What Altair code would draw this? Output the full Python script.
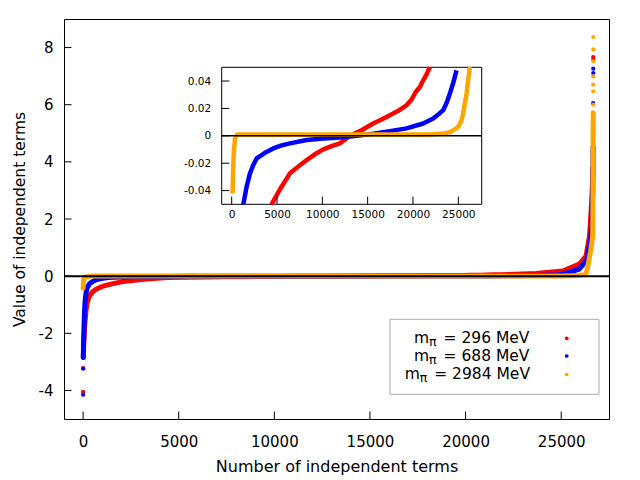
import altair as alt
import pandas as pd

# ---------------- data ----------------
names = ["296", "688", "2984"]
colors = ["#ff0000", "#0000ff", "#ffa500"]

red_idx = [10, 30, 60, 100, 150, 220, 320, 500, 700, 1000, 1500, 2000, 3000, 4400, 5330,
           6430, 7340, 8270, 9180, 10100, 11020, 11940, 13040, 14330, 15600, 16540, 17450,
           18370, 19290, 19850, 20300, 20760, 21130, 21500, 21860, 23690, 25080, 25950,
           26300, 26480, 26560, 26620, 26660]
red_val = [-2.85, -2.4, -2.0, -1.6, -1.2, -0.9, -0.7, -0.55, -0.45, -0.36, -0.27, -0.2, -0.12, -0.05,
           -0.039, -0.0274, -0.0225, -0.0177, -0.0135, -0.0099, -0.0075, -0.0055, 0.0, 0.0041,
           0.009, 0.0119, 0.015, 0.0182, 0.0223, 0.0265, 0.032, 0.0356, 0.0405, 0.0449, 0.050,
           0.09, 0.18, 0.42, 0.7, 1.4, 2.2, 3.0, 3.8]
red_out_idx = [0, 3, 26670, 26678, 26679]
red_out_val = [-4.05, -3.22, 4.13, 7.6, 7.67]

blue_idx = [8, 25, 45, 70, 100, 150, 220, 350, 600, 900, 1283, 1654, 2021, 2385, 2753, 3675,
            4590, 5513, 6430, 8270, 10100, 11940, 13780, 15615, 17450, 19290, 21130, 22230,
            22780, 23330, 23705, 24070, 24430, 24800, 25080, 25950, 26330, 26565, 26620,
            26650, 26668]
blue_val = [-2.85, -2.3, -1.8, -1.3, -0.9, -0.6, -0.4, -0.25, -0.15, -0.09, -0.05, -0.037, -0.0274,
            -0.0213, -0.0165, -0.0124, -0.0092, -0.007, -0.0055, -0.0031, -0.0019, -0.0012, 0.0,
            0.0015, 0.0034, 0.0054, 0.0090, 0.0126, 0.0155, 0.0187, 0.024, 0.0308, 0.0385,
            0.0478, 0.07, 0.25, 0.55, 1.4, 2.3, 3.0, 4.54]
blue_out_idx = [0, 3, 26672, 26676, 26678]
blue_out_val = [-4.15, -3.24, 6.06, 7.11, 7.26]

orange_idx = [0, 15, 35, 60, 100, 160, 240, 360, 600, 21860, 23330, 24070, 24800, 25100,
              25355, 25540, 25720, 25910, 26090, 26270, 26350, 26530, 26650, 26665, 26674]
orange_val = [-0.42, -0.25, -0.12, -0.06, -0.042, -0.025, -0.012, -0.002, 0.001, 0.001, 0.0016,
              0.0026, 0.0054, 0.0078, 0.0114, 0.0163, 0.0235, 0.0308, 0.0405, 0.0502, 0.2,
              0.85, 1.4, 3.84, 5.72]
orange_out_idx = [26676, 26677, 26677, 26678, 26678, 26679, 26680]
orange_out_val = [6.0, 6.47, 6.7, 6.99, 7.52, 7.93, 8.37]

main_xticks = [0, 5000, 10000, 15000, 20000, 25000]
main_yticks = [-4, -2, 0, 2, 4, 6, 8]
inset_xticks = [0, 5000, 10000, 15000, 20000, 25000]
inset_yticks = [-0.04, -0.02, 0, 0.02, 0.04]

# ---------------- layout constants ----------------
W, H = 545, 400
IX0, IX1, IY0, IY1 = 157.7, 417.7, 48.3, 185.3
FONT = "DejaVu Sans"

curves = [(red_idx, red_val), (blue_idx, blue_val), (orange_idx, orange_val)]
outs = [(red_out_idx, red_out_val), (blue_out_idx, blue_out_val), (orange_out_idx, orange_out_val)]

mx_scale = alt.Scale(domain=[-1000, 27500], nice=False, zero=False)
my_scale = alt.Scale(domain=[-5, 9], nice=False, zero=False)
ix_scale = alt.Scale(domain=[-1100, 27580], range=[IX0, IX1], nice=False, zero=False)
iy_scale = alt.Scale(domain=[-0.05, 0.05], range=[IY1, IY0], nice=False, zero=False)

main_xaxis = alt.Axis(values=main_xticks, labelExpr="toString(datum.value)", tickSize=0,
                      domain=False, grid=False, labelPadding=15, labelFontSize=15,
                      title="Number of independent terms", titlePadding=9, titleFontSize=16,
                      labelFlush=False)
main_yaxis = alt.Axis(values=main_yticks, labelExpr="toString(datum.value)", tickSize=0,
                      domain=False, grid=False, labelPadding=11, labelFontSize=15,
                      title="Value of independent terms", titlePadding=11, titleFontSize=15.5)
inset_xaxis = alt.Axis(values=inset_xticks, labelExpr="toString(datum.value)", tickSize=0,
                       domain=False, grid=False, labelPadding=5, labelFontSize=10.5,
                       orient="bottom", offset=-(H - IY1), title=None, zindex=1,
                       labelFlush=False)
inset_yaxis = alt.Axis(values=inset_yticks, labelExpr="toString(datum.value)", tickSize=0,
                       domain=False, grid=False, labelPadding=11, labelFontSize=10.5,
                       orient="left", offset=-IX0, title=None, zindex=1)


def MX():
    return alt.X("x:Q", scale=mx_scale, axis=main_xaxis)


def MY():
    return alt.Y("y:Q", scale=my_scale, axis=main_yaxis)


def IX():
    return alt.X("x:Q", scale=ix_scale, axis=inset_xaxis)


def IY():
    return alt.Y("y:Q", scale=iy_scale, axis=inset_yaxis)


# ---------------- main panel ----------------
main_layers = []
for (ci, cv), (oi, ov), col in zip(curves, outs, colors):
    cdf = pd.DataFrame({"x": ci, "y": cv})
    odf = pd.DataFrame({"x": oi, "y": ov})
    main_layers.append(alt.Chart(cdf).mark_line(color=col, strokeWidth=5, strokeCap="round",
                                                strokeJoin="round").encode(x=MX(), y=MY()))
    main_layers.append(alt.Chart(odf).mark_circle(color=col, size=18, opacity=1).encode(x=MX(), y=MY()))

main_layers.append(alt.Chart(pd.DataFrame({"y": [0]})).mark_rule(color="black", strokeWidth=2)
                   .encode(y=MY()))
main_layers.append(alt.Chart(pd.DataFrame({"x": main_xticks})).mark_rule(color="black", strokeWidth=1)
                   .encode(x=MX(), y=alt.value(H), y2=alt.value(H - 7.5)))
main_layers.append(alt.Chart(pd.DataFrame({"y": main_yticks})).mark_rule(color="black", strokeWidth=1)
                   .encode(y=MY(), x=alt.value(0), x2=alt.value(7.5)))

# legend (manual, gnuplot style: label left, symbol right)
one = pd.DataFrame({"a": [0]})
main_layers.append(alt.Chart(one).mark_rect(fill="white", stroke="#aaaaaa", strokeWidth=1)
                   .encode(x=alt.value(326), x2=alt.value(535), y=alt.value(300.3), y2=alt.value(375.3)))
row_base = [324.3, 342.0, 359.7]
row_mid = [319.3, 337.0, 355.5]
m_x = [350.0, 350.0, 340.7]
for nm, col, yb, ym, mx in zip(names, colors, row_base, row_mid, m_x):
    main_layers.append(alt.Chart(one).mark_text(text="m", font=FONT, fontSize=15.5, align="left",
                                                baseline="alphabetic", color="black")
                       .encode(x=alt.value(mx), y=alt.value(yb)))
    main_layers.append(alt.Chart(one).mark_text(text="π", font=FONT, fontSize=12.5, align="left",
                                                baseline="alphabetic", color="black")
                       .encode(x=alt.value(mx + 15), y=alt.value(yb + 3)))
    main_layers.append(alt.Chart(one).mark_text(text=f"= {nm} MeV", font=FONT, fontSize=15.5, align="left",
                                                baseline="alphabetic", color="black")
                       .encode(x=alt.value(mx + 29.5), y=alt.value(yb)))
    main_layers.append(alt.Chart(one).mark_circle(color=col, size=14, opacity=1)
                       .encode(x=alt.value(502.7), y=alt.value(ym)))

main = alt.layer(*main_layers)

# ---------------- inset panel ----------------
inset_layers = [alt.Chart(one).mark_rect(fill="white", stroke="black", strokeWidth=1)
                .encode(x=alt.value(IX0), x2=alt.value(IX1), y=alt.value(IY0), y2=alt.value(IY1))]
for (ci, cv), col in zip(curves, colors):
    cdf = pd.DataFrame({"x": ci, "y": cv})
    inset_layers.append(alt.Chart(cdf).transform_filter("abs(datum.y) <= 0.0505")
                        .mark_line(color=col, strokeWidth=4.5, strokeJoin="round")
                        .encode(x=IX(), y=IY()))
inset_layers.append(alt.Chart(pd.DataFrame({"y": [0]})).mark_rule(color="black", strokeWidth=1.5)
                    .encode(y=IY(), x=alt.value(IX0), x2=alt.value(IX1)))
inset_layers.append(alt.Chart(pd.DataFrame({"x": inset_xticks})).mark_rule(color="black", strokeWidth=1)
                    .encode(x=IX(), y=alt.value(IY1), y2=alt.value(IY1 - 7.7)))
inset_layers.append(alt.Chart(pd.DataFrame({"y": inset_yticks})).mark_rule(color="black", strokeWidth=1)
                    .encode(y=IY(), x=alt.value(IX0), x2=alt.value(IX0 + 7.7)))
inset = alt.layer(*inset_layers)

chart = (
    alt.layer(main, inset)
    .resolve_scale(x="independent", y="independent")
    .properties(width=W, height=H, autosize=alt.AutoSizeParams(type="none"),
                padding={"left": 56, "top": 11, "right": 20, "bottom": 60})
    .configure_view(stroke="black", strokeWidth=1)
    .configure_axis(labelFont=FONT, titleFont=FONT, labelColor="black", titleColor="black",
                    titleFontWeight="normal")
)

chart.save("out.html", embed_options={"renderer": "svg", "actions": False})
